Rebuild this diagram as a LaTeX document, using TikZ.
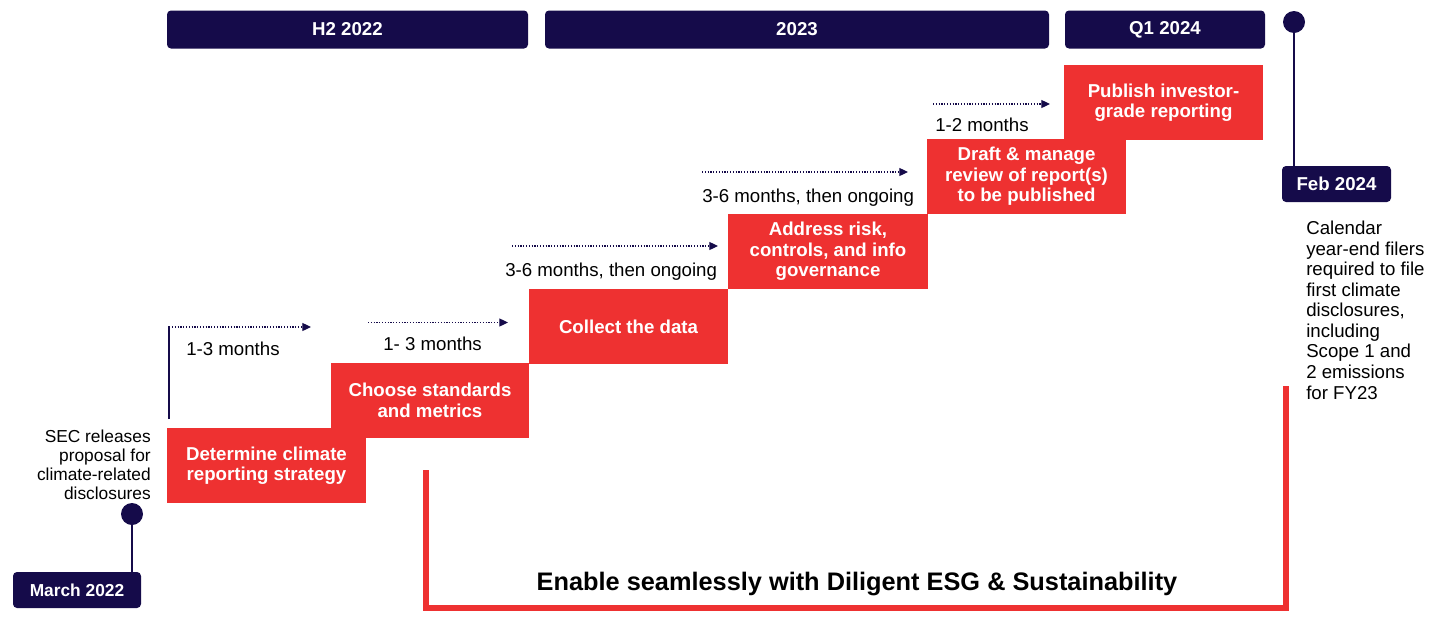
\documentclass[tikz,border=0pt]{standalone}
\usepackage{fontspec}
\setmainfont{Liberation Sans}
\usetikzlibrary{arrows.meta}
\definecolor{navy}{HTML}{150B4A}
\definecolor{bred}{HTML}{EE3131}
\begin{document}
\begin{tikzpicture}[x=0.75pt,y=-0.75pt,
  stepbox/.style={fill=bred, text=white, font=\bfseries\fontsize{14}{15.4}\selectfont, align=center,
    minimum width=149.25pt, minimum height=56.25pt, inner sep=0pt},
  hdr/.style={fill=navy, rounded corners=3pt, text=white, font=\bfseries\fontsize{14}{16}\selectfont,
    minimum height=28.5pt, inner sep=0pt},
  datebox/.style={fill=navy, rounded corners=3pt, text=white, minimum height=27pt, inner sep=0pt},
  lbl/.style={font=\fontsize{14}{16}\selectfont, text=black, inner sep=0pt},
  dotarrow/.style={navy, line width=0.9pt, dash pattern=on 0.9pt off 1.2pt, -{Triangle[length=6.5pt,width=6pt]}},
  dot/.style={circle, fill=navy, minimum size=16.5pt, inner sep=0pt},
  stem/.style={navy, line width=1.5pt},
  bracket/.style={bred, line width=4.5pt}
]
\useasboundingbox (0,0) rectangle (1429,629);

% headers
\node[hdr, minimum width=270.75pt] (h1) at (347.5,29.5) {H2 2022};
\node[hdr, minimum width=378pt] (h2) at (797,29.5) {2023};
\node[hdr, minimum width=150pt] (h3) at (1165,29.5) {Q1 2024};

% red bracket
\coordinate (br1) at (426,470);
\coordinate (brc) at (426,608);
\coordinate (br2) at (1286,386);
\draw[bracket] (br1) -- (brc) -| (br2);
\node[font=\bfseries\fontsize{19}{22}\selectfont, inner sep=0pt, anchor=base] (enable) at (857,590) {Enable seamlessly with Diligent ESG \& Sustainability};

% steps
\node[stepbox, minimum width=148.5pt] (s2) at (430,400.5) {Choose standards\\and metrics};
\node[stepbox] (s1) at (266.5,465.5) {Determine climate\\reporting strategy};
\node[stepbox] (s3) at (628.5,326.5) {Collect the data};
\node[stepbox, minimum width=150pt] (s4) at (828,251.5) {Address risk,\\controls, and info\\governance};
\node[stepbox] (s5) at (1026.5,176.5) {Draft \& manage\\review of report(s)\\to be published};
\node[stepbox] (s6) at (1163.5,102.5) {Publish investor-\\grade reporting};

% duration arrows
\coordinate (v1) at (169,419);
\coordinate (v2) at (169,326);
\draw[stem] (v1) -- (v2);
\coordinate (a1s) at (172,327); \coordinate (a1e) at (311,327);
\draw[dotarrow] (a1s) -- (a1e);
\node[lbl, anchor=base west] (l1) at (186,355) {1-3 months};

\coordinate (a2s) at (368,322.5); \coordinate (a2e) at (508,322.5);
\draw[dotarrow] (a2s) -- (a2e);
\node[lbl, anchor=base west] (l2) at (383,350) {1- 3 months};

\coordinate (a3s) at (512,246); \coordinate (a3e) at (718,246);
\draw[dotarrow] (a3s) -- (a3e);
\node[lbl, anchor=base west] (l3) at (505,276.5) {3-6 months, then ongoing};

\coordinate (a4s) at (702,172); \coordinate (a4e) at (908,172);
\draw[dotarrow] (a4s) -- (a4e);
\node[lbl, anchor=base west] (l4) at (702,202) {3-6 months, then ongoing};

\coordinate (a5s) at (933,104); \coordinate (a5e) at (1050,104);
\draw[dotarrow] (a5s) -- (a5e);
\node[lbl, anchor=base west] (l5) at (935,131) {1-2 months};

% March 2022 milestone
\node[datebox, minimum width=96pt, font=\bfseries\fontsize{13}{15}\selectfont] (march) at (77,590) {March 2022};
\node[dot] (c1) at (132,514) {};
\draw[stem] (c1.center) -- (c1.center |- march.north);
\node[font=\fontsize{13}{14.2}\selectfont, align=right, anchor=north east, inner sep=0pt] (sec) at (151,429.5)
  {SEC releases\\proposal for\\climate-related\\disclosures};

% Feb 2024 milestone
\node[datebox, minimum width=81.75pt, font=\bfseries\fontsize{14}{16}\selectfont] (feb) at (1336.5,184) {Feb 2024};
\node[dot] (c2) at (1294,22) {};
\draw[stem] (c2.center) -- (c2.center |- feb.north);
\node[font=\fontsize{14}{15.4}\selectfont, align=left, anchor=north west, inner sep=0pt] (cal) at (1306,221)
  {Calendar\\year-end filers\\required to file\\first climate\\disclosures,\\including\\Scope 1 and\\2 emissions\\for FY23};
\end{tikzpicture}
\end{document}
